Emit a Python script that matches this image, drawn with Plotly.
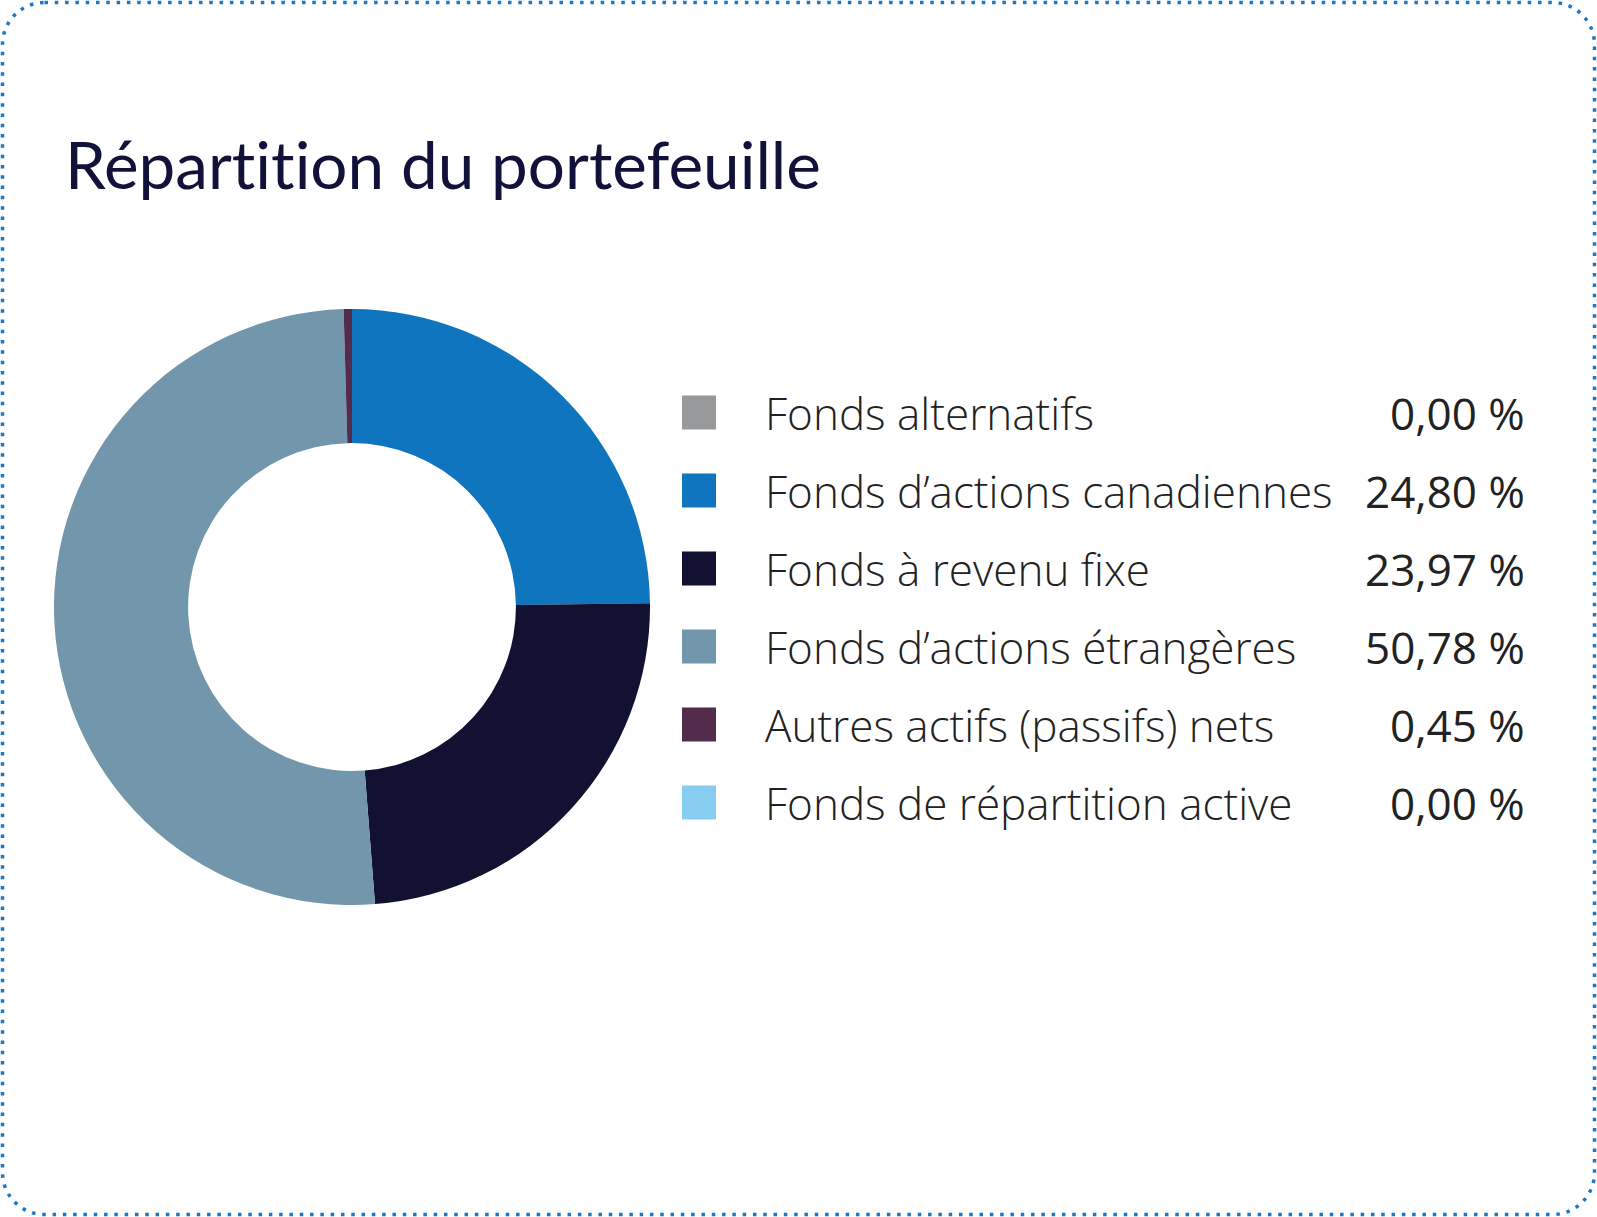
import plotly.graph_objects as go

# portfolio breakdown (values in %)
categories = ["Fonds alternatifs", "Fonds d’actions canadiennes", "Fonds à revenu fixe",
              "Fonds d’actions étrangères", "Autres actifs (passifs) nets",
              "Fonds de répartition active"]
values = [0.00, 24.80, 23.97, 50.78, 0.45, 0.00]
value_labels = ["0,00 %", "24,80 %", "23,97 %", "50,78 %", "0,45 %", "0,00 %"]
colors = ["#98999b", "#0e75be", "#121131", "#7296ab", "#532b4b", "#87cdf2"]

W, H = 1597, 1217

# donut geometry in pixels
cx, cy, r = 352, 607, 298

fig = go.Figure()

fig.add_trace(go.Pie(
    labels=categories,
    values=values,
    marker=dict(colors=colors, line=dict(width=0)),
    hole=0.55,
    sort=False,
    direction="clockwise",
    rotation=0,
    textinfo="none",
    hoverinfo="label+percent",
    showlegend=False,
    domain=dict(x=[(cx - r) / W, (cx + r) / W], y=[(H - cy - r) / H, (H - cy + r) / H]),
))

# legend rows
row0, row_step = 412.5, 78.0
rows_y = [row0 + i * row_step for i in range(len(categories))]

fig.add_trace(go.Scatter(
    x=[699] * len(categories),
    y=rows_y,
    mode="markers",
    marker=dict(symbol="square", size=34, color=colors, line=dict(width=0)),
    hoverinfo="skip",
    showlegend=False,
))

annotations = []
for yy, lab, val in zip(rows_y, categories, value_labels):
    annotations.append(dict(
        x=763, y=yy, xref="x", yref="y", text=lab, showarrow=False,
        xanchor="left", yanchor="middle",
        font=dict(family="Open Sans", size=44, color="#222222", weight=300),
    ))
    annotations.append(dict(
        x=1527, y=yy, xref="x", yref="y", text=val, showarrow=False,
        xanchor="right", yanchor="middle",
        font=dict(family="Open Sans", size=44, color="#222222"),
    ))

# title (zero-width non-joiner keeps "ti" from turning into a ligature)
annotations.append(dict(
    x=63, y=163, xref="x", yref="y", text="Répart\u200cit\u200cion du portefeuille", showarrow=False,
    xanchor="left", yanchor="middle",
    font=dict(family="Lato", size=65.6, color="#12113a"),
))

# dotted rounded frame
x0, y0, x1, y1, rc = 2.5, 2.5, 1594.5, 1214.5, 42
k = rc * 0.5523
frame = (f"M {x0 + rc},{y0} L {x1 - rc},{y0} "
         f"C {x1 - rc + k},{y0} {x1},{y0 + rc - k} {x1},{y0 + rc} "
         f"L {x1},{y1 - rc} "
         f"C {x1},{y1 - rc + k} {x1 - rc + k},{y1} {x1 - rc},{y1} "
         f"L {x0 + rc},{y1} "
         f"C {x0 + rc - k},{y1} {x0},{y1 - rc + k} {x0},{y1 - rc} "
         f"L {x0},{y0 + rc} "
         f"C {x0},{y0 + rc - k} {x0 + rc - k},{y0} {x0 + rc},{y0} Z")

fig.update_layout(
    width=W, height=H,
    margin=dict(l=0, r=0, t=0, b=0),
    paper_bgcolor="white", plot_bgcolor="rgba(0,0,0,0)",
    xaxis=dict(range=[0, W], visible=False, fixedrange=True),
    yaxis=dict(range=[H, 0], visible=False, fixedrange=True),
    annotations=annotations,
    shapes=[dict(type="path", path=frame, xref="x", yref="y",
                 line=dict(color="#1a78c6", width=3.5, dash="3.5px,6.8px"))],
)

fig.write_html("out.html", config={"displayModeBar": False},
               post_script="document.body.style.margin='0';")
